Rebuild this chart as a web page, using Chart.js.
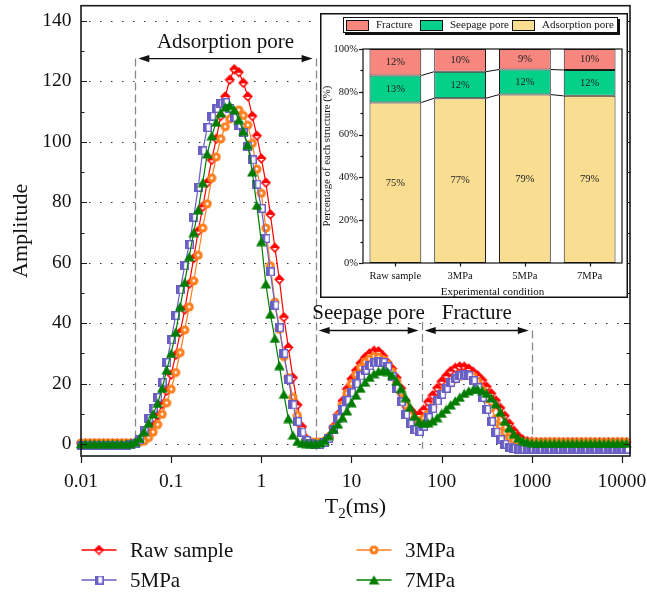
<!DOCTYPE html>
<html>
<head>
<meta charset="utf-8">
<script src="https://cdn.jsdelivr.net/npm/chart.js@4.4.1/dist/chart.umd.min.js"></script>
<style>
html,body{margin:0;padding:0;background:#fff;overflow:hidden;}
#wrap{position:relative;width:647px;height:595px;}
canvas{display:block;}
#main{position:absolute;left:0;top:0;}
#inset{position:absolute;left:320px;top:13px;}
.leg{position:absolute;display:flex;align-items:center;height:24px;line-height:24px;font-family:'Liberation Serif','Times New Roman',serif;font-size:21px;color:#111;white-space:nowrap;}
.leg canvas{margin-right:13px;}
</style>
</head>
<body>
<div id="wrap">
<canvas id="main" width="647" height="595"></canvas>
<canvas id="inset" width="308" height="285"></canvas>
<div class="leg" id="leg0" style="left:81px;top:538px;"></div>
<div class="leg" id="leg1" style="left:356px;top:538px;"></div>
<div class="leg" id="leg2" style="left:81px;top:568px;"></div>
<div class="leg" id="leg3" style="left:356px;top:568px;"></div>
</div>
<script>
// ---------------- DATA ----------------
const T2 = [
0.01,0.01122,0.01259,0.01413,0.01585,0.01778,0.01995,0.02239,0.02512,0.02818,0.03162,0.03548,0.03981,0.04467,0.05012,0.05623,0.0631,0.07079,0.07943,0.08913,
0.1,0.1122,0.1259,0.1413,0.1585,0.1778,0.1995,0.2239,0.2512,0.2818,0.3162,0.3548,0.3981,0.4467,0.5012,0.5623,0.631,0.7079,0.7943,0.8913,
1,1.122,1.259,1.413,1.585,1.778,1.995,2.239,2.512,2.818,3.162,3.548,3.981,4.467,5.012,5.623,6.31,7.079,7.943,8.913,
10,11.22,12.59,14.13,15.85,17.78,19.95,22.39,25.12,28.18,31.62,35.48,39.81,44.67,50.12,56.23,63.1,70.79,79.43,89.13,
100,112.2,125.9,141.3,158.5,177.8,199.5,223.9,251.2,281.8,316.2,354.8,398.1,446.7,501.2,562.3,631,707.9,794.3,891.3,
1000,1122,1259,1413,1585,1778,1995,2239,2512,2818,3162,3548,3981,4467,5012,5623,6310,7079,7943,8913,
10000,11220];

const rawSample = [
0.3,0.3,0.3,0.3,0.3,0.3,0.3,0.3,0.3,0.3,0.3,
0.3,0.4,0.9,2,3.8,6.3,9.5,13.2,17.6,23,
29.5,37,44.5,53,61.5,70.5,78.5,86.5,94,101,
108.5,115,120.5,124,123,119.5,115,108.5,102,94.5,
86.5,76,65,54.5,42,32,22,13,5.8,1.8,
0.5,0.3,0.3,0.9,2.5,5.8,9.8,14.3,18.3,21.6,
24.4,26.8,28.7,30,30.9,30.7,29.2,27,25,22,
18.5,14.4,11.5,9.9,9.8,11.4,14,16.2,18.6,20.8,
22.6,24.2,25.2,25.7,25.6,25,23.9,22.7,21.2,19,
16.8,14.5,12,9.4,6.8,4.5,2.7,1.5,1,0.8,
0.7,0.7,0.7,0.7,0.7,0.7,0.7,0.7,0.7,0.7,
0.7,0.7,0.7,0.7,0.7,0.7,0.7,0.7,0.7,0.7,0.7];

const mpa3 = [
0.4,0.4,0.4,0.4,0.4,0.4,0.4,0.4,0.4,0.4,0.4,
0.3,0.4,0.7,1,2.2,4,6.5,9.9,13.7,18.2,
23.7,30.3,37.8,45.4,54,62.5,71.5,79.5,88,95,
101,105,107.5,109.3,110.5,108.7,105.5,99.5,91,83,
71.5,59,47,38,29,22,15.5,9.5,4,1.4,
0.8,0.7,0.7,1,2.4,5.3,9.2,13,16.8,20,
23,25.3,27.2,28.3,29,28.8,28,26.5,24,20.7,
17,12.8,9.5,7.8,7.6,8.5,10,12.2,14.6,17,
18.6,20.2,21.5,22.4,23,23,22.4,20.8,18,15,
12,8.5,6,3.8,2.1,1.2,0.9,0.7,0.6,0.6,
0.6,0.6,0.6,0.6,0.6,0.6,0.6,0.6,0.6,0.6,
0.6,0.6,0.6,0.6,0.6,0.6,0.6,0.6,0.6,0.6,0.6];

const mpa5 = [
-0.4,-0.4,-0.4,-0.4,-0.4,-0.4,-0.4,-0.4,-0.4,-0.4,-0.4,
-0.2,0.3,1.5,4.5,8.5,11.8,15.5,20.5,27,34.5,
42.5,51,59,66,75,85,97,104.7,108.5,111,
112.7,113,111,108,105.5,103,98.5,94,86,78,
68,57,46,38.5,30,21.5,13,7.5,4,1.2,
0.2,0,0,0.6,2,5,8.5,11.5,14.5,17,
20,22.6,24.5,26,26.9,27.2,27,25.6,22.5,18.5,
14,9.8,6.8,4.8,4.2,6,8.8,11.8,14.3,16.5,
18.5,20.5,21.8,22.6,23,22.6,21,18.7,15.5,11.5,
7.5,4,1.5,0,-1,-1.4,-1.6,-1.6,-1.6,-1.6,
-1.6,-1.6,-1.6,-1.6,-1.6,-1.6,-1.6,-1.6,-1.6,-1.6,
-1.6,-1.6,-1.6,-1.6,-1.6,-1.6,-1.6,-1.6,-1.6,-1.6,-1.6];

const mpa7 = [
0.1,0.1,0.1,0.1,0.1,0.1,0.1,0.1,0.1,0.1,0.1,
0.2,0.7,1.9,4.2,7,10,13.5,18.5,24.5,30,
37,45.5,53.5,62,70,77.5,86.5,96,102,106.5,
109.5,111.5,112,110.5,107.3,103.5,99,90,79,67,
53,43,35,26,16.5,8.5,3,0.9,0.3,0.2,
0.2,0.2,0.4,1.2,2.8,5,6.6,8.8,11,13.7,
16.2,18.5,20.5,22.1,23.3,24.1,24.4,24,22.8,20.8,
18.4,15.4,12.2,9.3,7.5,6.9,7,7.7,8.8,10.2,
11.5,13,14.3,15.5,16.8,17.6,18.1,18.2,17.7,16.8,
15.3,13.3,10.6,7.6,5.4,3.4,2,1.2,0.7,0.4,
0.3,0.3,0.3,0.3,0.3,0.3,0.3,0.3,0.3,0.3,
0.3,0.3,0.3,0.3,0.3,0.3,0.3,0.3,0.3,0.3,0.3];

const seriesNames = ['Raw sample','3MPa','5MPa','7MPa'];
const xTickValues = [0.01,0.1,1,10,100,1000,10000];
const xTickLabels = ['0.01','0.1','1','10','100','1000','10000'];
const yTickValues = [0,20,40,60,80,100,120,140];
const yTickLabels = ['0','20','40','60','80','100','120','140'];
const yMinorValues = [10,30,50,70,90,110,130];

// pore-region annotations
const boundaryT2 = [0.04, 4, 60, 1000];
const boundaryTop = [127.5, 127.5, 40.4, 37.6];
const boundaryBottom = [0, -2, -1.5, -1.5];
const regionNames = ['Adsorption pore','Seepage pore','Fracture'];
const regionFrom = [0.04, 4, 60];
const regionTo = [4, 60, 1000];
const regionArrowY = [127.5, 37.6, 37.6];
const regionLabelY = [132.7, 43.2, 43.2];

// inset (stacked percentage bars)
const conditions = ['Raw sample','3MPa','5MPa','7MPa'];
const adsorptionPct = [75, 77, 78.7, 78.1];
const seepagePct = [12.6, 12.4, 11.7, 12.1];
const fracturePct = [12.4, 10.6, 9.6, 9.8];
const adsorptionLabels = ['75%','77%','79%','79%'];
const seepageLabels = ['13%','12%','12%','12%'];
const fractureLabels = ['12%','10%','9%','10%'];
const insetYTicks = [0,20,40,60,80,100];

// ---------------- STYLE ----------------
const SERIF = "'Liberation Serif','Times New Roman',serif";
Chart.defaults.font.family = SERIF;
const RED='#FF0000', ORANGE='#FF7F1E', PURPLE='#6A5FC4', GREEN='#007D00';
const C_FRAC='#F7867E', C_SEEP='#04D08A', C_ADS='#F9DE92';

function mk(w,h,draw){const c=document.createElement('canvas');c.width=w;c.height=h;draw(c.getContext('2d'));return c;}
const mRaw = mk(11,11,g=>{g.fillStyle=RED;g.beginPath();g.moveTo(5.5,0.3);g.lineTo(10.7,5.5);g.lineTo(5.5,10.7);g.lineTo(0.3,5.5);g.closePath();g.fill();
  g.fillStyle='#fff';g.beginPath();g.moveTo(2.9,5.9);g.lineTo(8.1,5.9);g.lineTo(5.5,8.4);g.closePath();g.fill();});
const mO = mk(10,10,g=>{g.fillStyle=ORANGE;g.beginPath();g.arc(5,5,4.6,0,Math.PI*2);g.fill();g.fillStyle='#fff';g.beginPath();g.arc(5,5,1.4,0,Math.PI*2);g.fill();});
const mP = mk(9,9,g=>{g.fillStyle='#fff';g.fillRect(0,0,9,9);g.fillStyle=PURPLE;g.fillRect(0.7,0.7,3.2,7.6);g.strokeStyle=PURPLE;g.lineWidth=1.4;g.strokeRect(0.7,0.7,7.6,7.6);});
const mG = mk(11,10,g=>{g.fillStyle=GREEN;g.beginPath();g.moveTo(5.5,0.3);g.lineTo(10.8,9.6);g.lineTo(0.2,9.6);g.closePath();g.fill();});

const seriesValues = [rawSample, mpa3, mpa5, mpa7];
const seriesColors = [RED, ORANGE, PURPLE, GREEN];
const seriesMarkers = [mRaw, mO, mP, mG];

const datasets = seriesValues.map((vals,k)=>({
  label: seriesNames[k],
  data: T2.map((t,i)=>({x:t, y:vals[i]})),
  borderColor: seriesColors[k], backgroundColor: seriesColors[k],
  borderWidth: 1.2, pointStyle: seriesMarkers[k], pointRadius: 4.5, pointHoverRadius: 4.5,
  tension: 0, order: 4-k, clip: 6
}));

function arrowHead(ctx, x, y, dir){
  ctx.beginPath(); ctx.moveTo(x,y); ctx.lineTo(x-dir*11,y-3.6); ctx.lineTo(x-dir*11,y+3.6); ctx.closePath(); ctx.fill();
}

const mainDecor = {
  id:'mainDecor',
  beforeDatasetsDraw(chart){
    const {ctx, chartArea:a, scales:{x,y}} = chart;
    ctx.save();
    ctx.strokeStyle='#333'; ctx.lineWidth=1; ctx.setLineDash([1.5,9.5]);
    yTickValues.forEach(v=>{const py=Math.round(y.getPixelForValue(v))+0.5; ctx.beginPath(); ctx.moveTo(a.left+8,py); ctx.lineTo(a.right,py); ctx.stroke();});
    ctx.strokeStyle='#8a8a8a'; ctx.lineWidth=1.3; ctx.setLineDash([8,4]);
    boundaryT2.forEach((t,i)=>{const px=Math.round(x.getPixelForValue(t))+0.5; ctx.beginPath(); ctx.moveTo(px,y.getPixelForValue(boundaryTop[i])); ctx.lineTo(px,y.getPixelForValue(boundaryBottom[i])); ctx.stroke();});
    ctx.restore();
  },
  afterDatasetsDraw(chart){
    const {ctx, chartArea:a, scales:{x,y}} = chart;
    ctx.save();
    ctx.setLineDash([]);
    ctx.strokeStyle='#1a1a1a'; ctx.lineWidth=1.2;
    yTickValues.forEach(v=>{const py=Math.round(y.getPixelForValue(v))+0.5;
      ctx.beginPath(); ctx.moveTo(a.left,py); ctx.lineTo(a.left+6,py); ctx.moveTo(a.right,py); ctx.lineTo(a.right-6,py); ctx.stroke();});
    yMinorValues.forEach(v=>{const py=Math.round(y.getPixelForValue(v))+0.5;
      ctx.beginPath(); ctx.moveTo(a.left,py); ctx.lineTo(a.left+3.5,py); ctx.moveTo(a.right,py); ctx.lineTo(a.right-3.5,py); ctx.stroke();});
    xTickValues.forEach(v=>{const px=Math.round(x.getPixelForValue(v))+0.5;
      ctx.beginPath(); ctx.moveTo(px,a.bottom); ctx.lineTo(px,a.bottom+7); ctx.stroke();});
    ctx.lineWidth=1.6; ctx.strokeRect(a.left,a.top,a.right-a.left,a.bottom-a.top);
    // region arrows + labels
    ctx.fillStyle='#111'; ctx.strokeStyle='#111'; ctx.lineWidth=1.3;
    ctx.font='21px '+SERIF; ctx.textAlign='center'; ctx.textBaseline='middle';
    regionNames.forEach((nm,i)=>{
      const x1=x.getPixelForValue(regionFrom[i])+3, x2=x.getPixelForValue(regionTo[i])-3, py=y.getPixelForValue(regionArrowY[i]);
      ctx.beginPath(); ctx.moveTo(x1+6,py); ctx.lineTo(x2-6,py); ctx.stroke();
      arrowHead(ctx,x1,py,-1); arrowHead(ctx,x2,py,1);
      const cx=x.getPixelForValue(Math.sqrt(regionFrom[i]*regionTo[i]));
      ctx.fillText(nm,cx,y.getPixelForValue(regionLabelY[i]));
    });
    ctx.restore();
  },
  afterDraw(chart){
    const {ctx, chartArea:a} = chart;
    ctx.save(); ctx.fillStyle='#111';
    ctx.translate(21,(a.top+a.bottom)/2); ctx.rotate(-Math.PI/2);
    ctx.font='22px '+SERIF; ctx.textAlign='center'; ctx.textBaseline='middle';
    ctx.fillText('Amplitude',0,0);
    ctx.restore();
    ctx.save(); ctx.fillStyle='#111'; ctx.textBaseline='alphabetic'; ctx.textAlign='left';
    const big='22px '+SERIF, small='15px '+SERIF;
    ctx.font=big; const wT=ctx.measureText('T').width, wR=ctx.measureText('(ms)').width;
    ctx.font=small; const w2=ctx.measureText('2').width;
    let sx=(a.left+a.right)/2-(wT+w2+wR)/2; const by=513;
    ctx.font=big; ctx.fillText('T',sx,by); sx+=wT;
    ctx.font=small; ctx.fillText('2',sx,by+5); sx+=w2;
    ctx.font=big; ctx.fillText('(ms)',sx,by);
    ctx.restore();
  }
};

new Chart(document.getElementById('main'),{
  type:'line',
  data:{datasets},
  options:{
    responsive:false, animation:false, devicePixelRatio:1,
    layout:{padding:{top:5,right:17,left:0,bottom:0}},
    plugins:{legend:{display:false},tooltip:{enabled:false}},
    scales:{
      x:{type:'logarithmic',min:0.01,max:12270,
        grid:{display:false,drawTicks:false},border:{display:false},
        ticks:{font:{size:19.5},color:'#111',padding:14,maxRotation:0,autoSkip:false,
          callback:(v,i)=>xTickLabels[i]},
        afterBuildTicks:s=>{s.ticks=xTickValues.map(v=>({value:v}));},
        afterFit:s=>{s.height=139;s.paddingLeft=0;s.paddingRight=0;}},
      y:{type:'linear',min:-3.9,max:145,
        grid:{display:false,drawTicks:false},border:{display:false},
        ticks:{font:{size:19.5},color:'#111',padding:9.5,
          callback:(v,i)=>yTickLabels[i]},
        afterBuildTicks:s=>{s.ticks=yTickValues.map(v=>({value:v}));},
        afterFit:s=>{s.width=81;s.paddingTop=0;s.paddingBottom=0;}}
    }
  },
  plugins:[mainDecor]
});

// ---------------- HTML legend ----------------
seriesNames.forEach((nm,k)=>{
  const el=document.getElementById('leg'+k);
  const c=document.createElement('canvas'); c.width=36; c.height=22;
  const g=c.getContext('2d'); g.strokeStyle=seriesColors[k]; g.lineWidth=1.4;
  g.beginPath(); g.moveTo(0.5,11); g.lineTo(35.5,11); g.stroke();
  const m=seriesMarkers[k]; g.drawImage(m,18-m.width/2,11-m.height/2);
  el.appendChild(c);
  const s=document.createElement('span'); s.textContent=nm; el.appendChild(s);
});

// ---------------- INSET ----------------
const segLabels=[adsorptionLabels,seepageLabels,fractureLabels];
const insetDecor={
  id:'insetDecor',
  beforeDraw(chart){const {ctx,width,height}=chart; ctx.save(); ctx.fillStyle='#fff'; ctx.fillRect(0,0,width,height); ctx.restore();},
  afterDatasetsDraw(chart){
    const {ctx, chartArea:a, scales:{x,y}} = chart;
    ctx.save();
    ctx.strokeStyle='#111'; ctx.lineWidth=1;
    [0,1].forEach(d=>{const meta=chart.getDatasetMeta(d);
      for(let i=0;i<meta.data.length-1;i++){const e=meta.data[i], n=meta.data[i+1];
        ctx.beginPath(); ctx.moveTo(e.x+e.width/2,e.y); ctx.lineTo(n.x-n.width/2,n.y); ctx.stroke();}});
    ctx.fillStyle='#222'; ctx.font='10.5px '+SERIF; ctx.textAlign='center'; ctx.textBaseline='middle';
    [0,1,2].forEach(d=>{const meta=chart.getDatasetMeta(d);
      meta.data.forEach((e,i)=>{ctx.fillText(segLabels[d][i],e.x,(e.y+e.base)/2);});});
    ctx.lineWidth=1.2; ctx.strokeStyle='#111';
    ctx.strokeRect(a.left,a.top,a.right-a.left,a.bottom-a.top);
    for(let v=0; v<=100; v+=10){const py=Math.round(y.getPixelForValue(v))+0.5; const L=(v%20===0)?4:2.5;
      ctx.beginPath(); ctx.moveTo(a.left,py); ctx.lineTo(a.left-L,py); ctx.stroke();}
    conditions.forEach((c,i)=>{const px=Math.round(x.getPixelForValue(i))+0.5; ctx.beginPath(); ctx.moveTo(px,a.bottom); ctx.lineTo(px,a.bottom+3.5); ctx.stroke();});
    ctx.restore();
  },
  afterDraw(chart){
    const {ctx, chartArea:a, width, height} = chart;
    ctx.save();
    ctx.strokeStyle='#111'; ctx.lineWidth=1.5; ctx.strokeRect(0.75,0.75,width-1.5,height-1.5);
    // legend box with shadow
    ctx.fillStyle='#111'; ctx.fillRect(25,6,275,16);
    ctx.fillStyle='#fff'; ctx.fillRect(23,4,275,16);
    ctx.lineWidth=1; ctx.strokeRect(23.5,4.5,274,15);
    const items=[['Fracture',C_FRAC,26],['Seepage pore',C_SEEP,100],['Adsorption pore',C_ADS,192]];
    ctx.font='11px '+SERIF; ctx.textBaseline='middle'; ctx.textAlign='left';
    items.forEach(it=>{ctx.fillStyle=it[1]; ctx.fillRect(it[2],7,23,11); ctx.strokeStyle='#111'; ctx.strokeRect(it[2]+0.5,7.5,22,10);
      ctx.fillStyle='#111'; ctx.fillText(it[0],it[2]+30,12.5);});
    // axis titles
    ctx.textAlign='center'; ctx.fillStyle='#111';
    ctx.font='11px '+SERIF; ctx.fillText('Experimental condition',(a.left+a.right)/2,279);
    ctx.translate(7,(a.top+a.bottom)/2); ctx.rotate(-Math.PI/2);
    ctx.font='10.8px '+SERIF; ctx.fillText('Percentage of each structure (%)',0,0);
    ctx.restore();
  }
};

new Chart(document.getElementById('inset'),{
  type:'bar',
  data:{labels:conditions,datasets:[
    {label:'Adsorption pore',data:adsorptionPct,backgroundColor:C_ADS},
    {label:'Seepage pore',data:seepagePct,backgroundColor:C_SEEP},
    {label:'Fracture',data:fracturePct,backgroundColor:C_FRAC}]},
  options:{
    responsive:false, animation:false, devicePixelRatio:1,
    layout:{padding:{top:36,right:6,left:0,bottom:0}},
    plugins:{legend:{display:false},tooltip:{enabled:false}},
    datasets:{bar:{barPercentage:0.8,categoryPercentage:1,borderColor:'#1a1a1a',borderWidth:1,borderSkipped:false}},
    scales:{
      x:{stacked:true,grid:{display:false,drawTicks:false},border:{display:false},
        ticks:{font:{size:10.5},color:'#111',padding:7,maxRotation:0,autoSkip:false},
        afterFit:s=>{s.height=35;s.paddingLeft=0;s.paddingRight=0;}},
      y:{stacked:true,min:0,max:100,grid:{display:false,drawTicks:false},border:{display:false},
        ticks:{font:{size:10.5},color:'#111',padding:5,callback:v=>v+'%'},
        afterBuildTicks:s=>{s.ticks=insetYTicks.map(v=>({value:v}));},
        afterFit:s=>{s.width=43;s.paddingTop=0;s.paddingBottom=0;}}
    }
  },
  plugins:[insetDecor]
});
</script>
</body>
</html>
